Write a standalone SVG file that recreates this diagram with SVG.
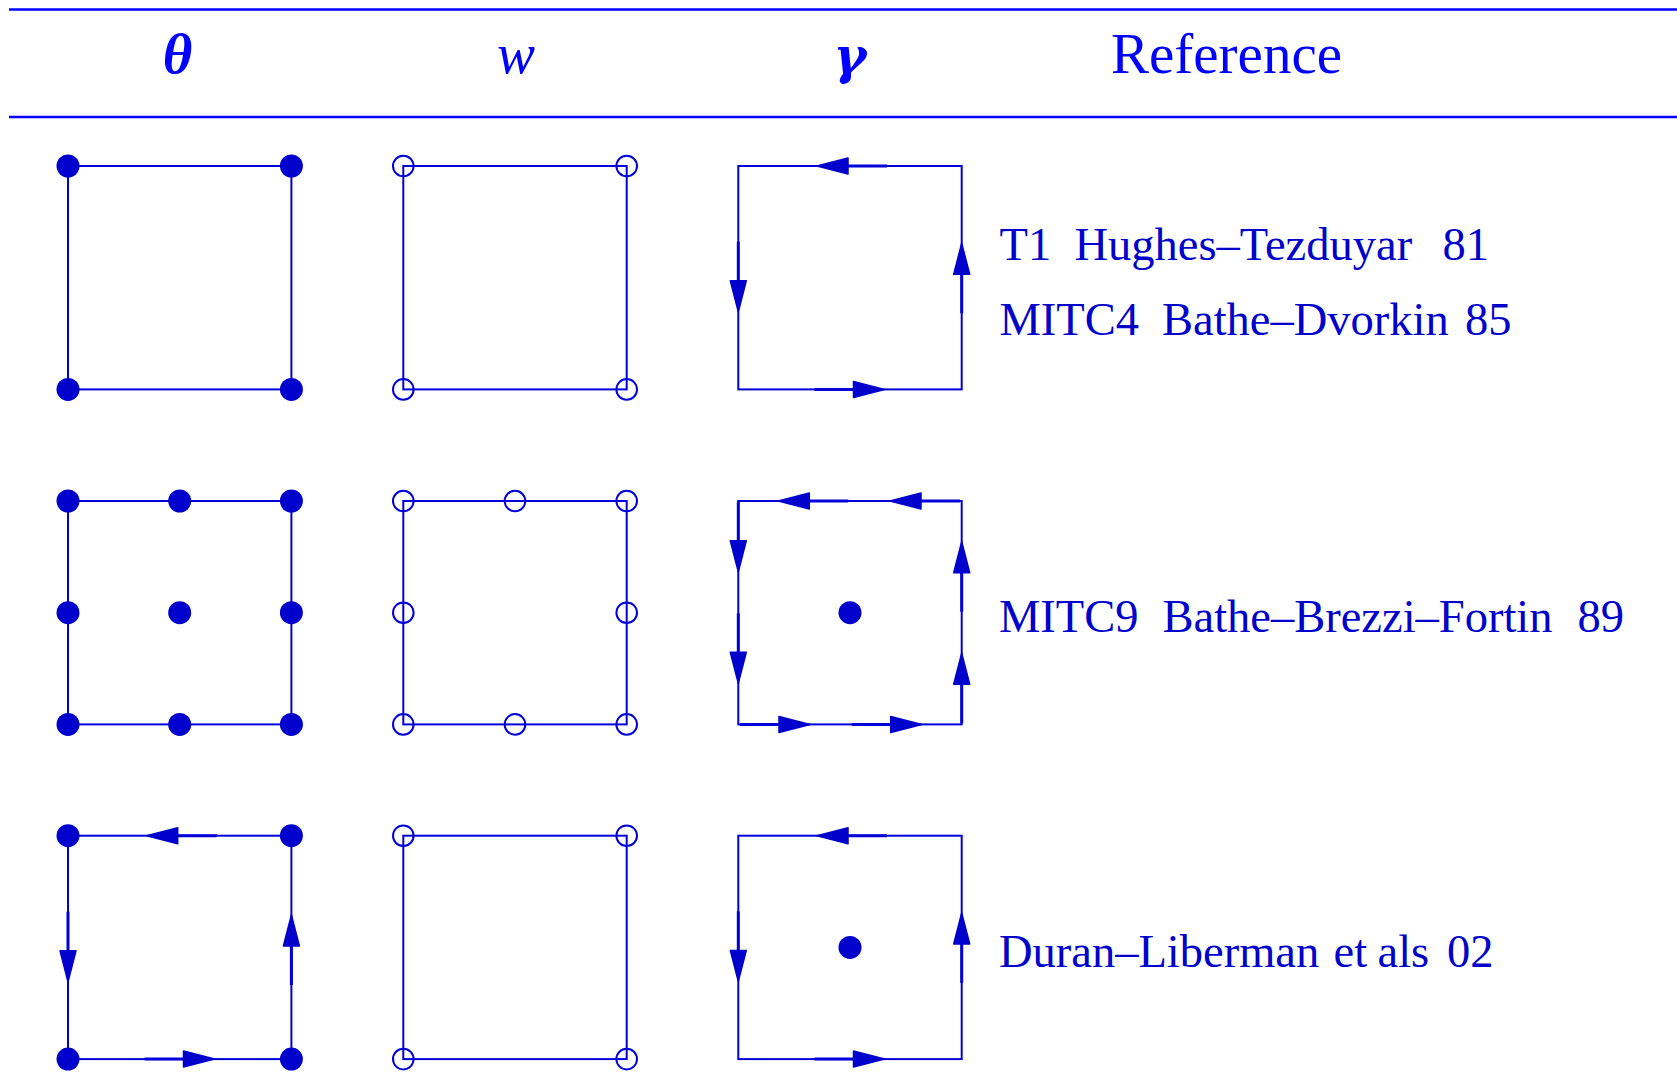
<svg xmlns="http://www.w3.org/2000/svg" xmlns:xlink="http://www.w3.org/1999/xlink" width="1677" height="1072" viewBox="0 0 1677 1072">
<style>
.hdr{fill:#0000FF;font-family:"Liberation Serif","DejaVu Serif",serif;font-size:57px}
.rule{stroke:#0000FF;stroke-width:2.6}
.edge{fill:none;stroke:#0000D8;stroke-width:2}
.dot{fill:#0000CC}
.hol{fill:none;stroke:#0000D8;stroke-width:2}
.lbl{fill:#0000CC;font-family:"Liberation Serif","Times New Roman",serif;font-size:46.5px}
</style>
<defs>
<g id="arr">
<line x1="-70" y1="0" x2="-30" y2="0" stroke="#0000D8" stroke-width="3"/>
<polygon points="0,0 -31,-8 -31,8" fill="#0000CC" stroke="#0000CC" stroke-width="1.5" stroke-linejoin="round"/>
</g>
</defs>
<rect width="1677" height="1072" fill="#FFFFFF"/>
<g id="header">
<line class="rule" x1="9" y1="9.5" x2="1677" y2="9.5"/>
<line class="rule" x1="9" y1="117" x2="1677" y2="117"/>
<text class="hdr" x="177.5" y="73" text-anchor="middle" font-weight="bold" font-style="italic">θ</text>
<text class="hdr" x="516" y="73" text-anchor="middle" font-style="italic">w</text>
<text class="hdr" x="850" y="73" text-anchor="middle" font-weight="bold" font-style="italic" style="font-family:'DejaVu Serif',serif;font-size:50px">γ</text>
<text class="hdr" x="1111" y="73">Reference</text>
</g>
<g id="r1-theta">
<rect class="edge" x="68" y="166" width="223.4" height="223.4"/>
<circle class="dot" cx="68" cy="166" r="11.5"/><circle class="dot" cx="291.4" cy="166" r="11.5"/>
<circle class="dot" cx="68" cy="389.4" r="11.5"/><circle class="dot" cx="291.4" cy="389.4" r="11.5"/>
</g>
<g id="r1-w">
<rect class="edge" x="403.3" y="166" width="223.4" height="223.4"/>
<circle class="hol" cx="403.3" cy="166" r="10.3"/><circle class="hol" cx="626.7" cy="166" r="10.3"/>
<circle class="hol" cx="403.3" cy="389.4" r="10.3"/><circle class="hol" cx="626.7" cy="389.4" r="10.3"/>
</g>
<g id="r1-gamma">
<rect class="edge" x="738.3" y="166" width="223.4" height="223.4"/>
<use xlink:href="#arr" transform="translate(817,166) rotate(180)"/>
<use xlink:href="#arr" transform="translate(884.5,389.4)"/>
<use xlink:href="#arr" transform="translate(738.3,311.7) rotate(90)"/>
<use xlink:href="#arr" transform="translate(961.7,243.3) rotate(-90)"/>
</g>
<g id="r1-ref">
<text class="lbl" y="260"><tspan x="999.5">T1</tspan><tspan x="1074.5">Hughes–Tezduyar</tspan><tspan x="1442.5">81</tspan></text>
<text class="lbl" y="334.5"><tspan x="999.5">MITC4</tspan><tspan x="1162">Bathe–Dvorkin</tspan><tspan x="1465">85</tspan></text>
</g>
<g id="r2-theta">
<rect class="edge" x="68" y="501" width="223.4" height="223.4"/>
<circle class="dot" cx="68" cy="501" r="11.5"/><circle class="dot" cx="179.7" cy="501" r="11.5"/><circle class="dot" cx="291.4" cy="501" r="11.5"/>
<circle class="dot" cx="68" cy="612.7" r="11.5"/><circle class="dot" cx="179.7" cy="612.7" r="11.5"/><circle class="dot" cx="291.4" cy="612.7" r="11.5"/>
<circle class="dot" cx="68" cy="724.4" r="11.5"/><circle class="dot" cx="179.7" cy="724.4" r="11.5"/><circle class="dot" cx="291.4" cy="724.4" r="11.5"/>
</g>
<g id="r2-w">
<rect class="edge" x="403.3" y="501" width="223.4" height="223.4"/>
<circle class="hol" cx="403.3" cy="501" r="10.3"/><circle class="hol" cx="515" cy="501" r="10.3"/><circle class="hol" cx="626.7" cy="501" r="10.3"/>
<circle class="hol" cx="403.3" cy="612.7" r="10.3"/><circle class="hol" cx="626.7" cy="612.7" r="10.3"/>
<circle class="hol" cx="403.3" cy="724.4" r="10.3"/><circle class="hol" cx="515" cy="724.4" r="10.3"/><circle class="hol" cx="626.7" cy="724.4" r="10.3"/>
</g>
<g id="r2-gamma">
<rect class="edge" x="738.3" y="501" width="223.4" height="223.4"/>
<circle class="dot" cx="850" cy="612.7" r="11.5"/>
<use xlink:href="#arr" transform="translate(778.3,501) rotate(180)"/>
<use xlink:href="#arr" transform="translate(890,501) rotate(180)"/>
<use xlink:href="#arr" transform="translate(810,724.4)"/>
<use xlink:href="#arr" transform="translate(921.7,724.4)"/>
<use xlink:href="#arr" transform="translate(738.3,571.7) rotate(90)"/>
<use xlink:href="#arr" transform="translate(738.3,683.3) rotate(90)"/>
<use xlink:href="#arr" transform="translate(961.7,541.7) rotate(-90)"/>
<use xlink:href="#arr" transform="translate(961.7,653.3) rotate(-90)"/>
</g>
<g id="r2-ref">
<text class="lbl" y="631.5"><tspan x="999">MITC9</tspan><tspan x="1162.5">Bathe–Brezzi–Fortin</tspan><tspan x="1577.5">89</tspan></text>
</g>
<g id="r3-theta">
<rect class="edge" x="68" y="835.7" width="223.4" height="223.4"/>
<use xlink:href="#arr" transform="translate(146.7,835.7) rotate(180)"/>
<use xlink:href="#arr" transform="translate(214.5,1059.1)"/>
<use xlink:href="#arr" transform="translate(68,981.7) rotate(90)"/>
<use xlink:href="#arr" transform="translate(291.4,915) rotate(-90)"/>
<circle class="dot" cx="68" cy="835.7" r="11.5"/><circle class="dot" cx="291.4" cy="835.7" r="11.5"/>
<circle class="dot" cx="68" cy="1059.1" r="11.5"/><circle class="dot" cx="291.4" cy="1059.1" r="11.5"/>
</g>
<g id="r3-w">
<rect class="edge" x="403.3" y="835.7" width="223.4" height="223.4"/>
<circle class="hol" cx="403.3" cy="835.7" r="10.3"/><circle class="hol" cx="626.7" cy="835.7" r="10.3"/>
<circle class="hol" cx="403.3" cy="1059.1" r="10.3"/><circle class="hol" cx="626.7" cy="1059.1" r="10.3"/>
</g>
<g id="r3-gamma">
<rect class="edge" x="738.3" y="835.7" width="223.4" height="223.4"/>
<circle class="dot" cx="850" cy="947.4" r="11.5"/>
<use xlink:href="#arr" transform="translate(817,835.7) rotate(180)"/>
<use xlink:href="#arr" transform="translate(884.5,1059.1)"/>
<use xlink:href="#arr" transform="translate(738.3,981.4) rotate(90)"/>
<use xlink:href="#arr" transform="translate(961.7,913) rotate(-90)"/>
</g>
<g id="r3-ref">
<text class="lbl" y="967"><tspan x="999">Duran–Liberman</tspan><tspan x="1333.5">et</tspan><tspan x="1377.5">als</tspan><tspan x="1447">02</tspan></text>
</g>
</svg>
